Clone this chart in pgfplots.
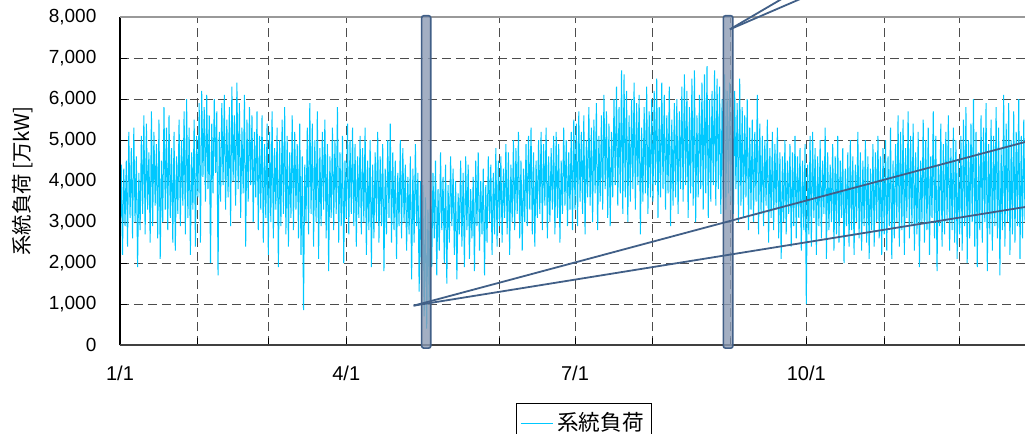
\documentclass[border=0pt]{standalone}
\usepackage{fontspec}
\setmainfont{Liberation Sans}
\newfontfamily\jp{Noto Sans CJK JP}
\usepackage{pgfplots}
\usepackage{pgfplotstable}
\pgfplotsset{compat=1.18}
\definecolor{load}{HTML}{00C8FF}
\definecolor{ann}{HTML}{415F87}
\definecolor{barf}{HTML}{8C9BB4}

% daily low / high pairs (万kW), day 0 = 1/1
\pgfplotstableread[row sep=\\]{v\\
2300\\4400\\2200\\4300\\2900\\4500\\2400\\5200\\3100\\4800\\2600\\5300\\3000\\4600\\1900\\4200\\2800\\5100\\3200\\5600\\
2700\\5400\\3300\\4700\\2500\\5700\\2900\\5200\\3400\\4900\\2600\\5500\\2100\\4500\\3000\\5800\\3300\\5300\\2800\\5600\\
3100\\4800\\2500\\5200\\2300\\4600\\3200\\5500\\2900\\5000\\3400\\5700\\2700\\6000\\3100\\5300\\2200\\4700\\3300\\5500\\2400\\5100\\
3600\\5900\\2500\\6200\\4100\\5800\\3500\\6100\\3800\\5600\\2000\\5400\\3700\\6000\\4200\\5700\\1700\\5200\\3500\\5900\\3900\\6100\\3300\\5500\\
3600\\5800\\2900\\6300\\4000\\5600\\3400\\6400\\3800\\5900\\3100\\5300\\3700\\6100\\2400\\5500\\3500\\5800\\3900\\5600\\3000\\5200\\3600\\5700\\
2800\\5100\\3300\\5600\\2500\\4900\\3100\\5400\\2200\\5200\\3000\\5700\\2600\\4800\\3300\\5300\\1900\\5000\\2900\\5500\\3200\\5800\\2700\\5100\\2400\\4700\\3100\\5600\\2800\\5200\\3300\\4900\\2600\\5400\\2200\\4600\\850\\4400\\3000\\5300\\
2700\\5900\\3200\\5400\\2400\\5000\\3000\\5700\\2100\\4800\\2900\\5200\\3300\\5500\\2600\\4900\\1800\\4600\\3100\\5300\\2800\\5000\\3200\\5800\\2500\\4700\\2900\\5100\\2000\\4500\\3100\\5400\\2700\\5000\\3200\\5300\\
2900\\4900\\2400\\4600\\3100\\5100\\2700\\4800\\3000\\5300\\2200\\4500\\2800\\5000\\1900\\4400\\2600\\4700\\3000\\5200\\2500\\4600\\2900\\4900\\1800\\4300\\2700\\5000\\3100\\5400\\2500\\4700\\2800\\4500\\2100\\4200\\2900\\5000\\2600\\4800\\3000\\4400\\2300\\4100\\2700\\4600\\1600\\4300\\2500\\4900\\2900\\4200\\1300\\4000\\
1200\\3900\\700\\3600\\400\\3300\\1100\\3800\\
1900\\4200\\2600\\4500\\1700\\3800\\2300\\4700\\2800\\4100\\2000\\4400\\1500\\3900\\2500\\4600\\2900\\4300\\2200\\4000\\1600\\3700\\2700\\4500\\2400\\4200\\1900\\4600\\2800\\4400\\2100\\3800\\2600\\4100\\1800\\4500\\2900\\4700\\2300\\4000\\2700\\4300\\1700\\3900\\2500\\4600\\3000\\4400\\2200\\4200\\2700\\4800\\2400\\4500\\
2900\\4600\\2500\\4300\\3100\\4900\\2700\\4700\\2200\\4400\\3000\\5000\\2800\\4800\\3200\\5200\\2600\\4500\\2300\\4300\\3000\\4900\\2900\\5100\\3300\\5300\\2700\\4700\\2400\\4500\\3100\\5000\\3200\\5200\\2800\\4900\\3400\\5300\\2600\\4600\\3000\\4800\\3300\\5100\\2700\\5200\\3100\\4900\\2500\\4500\\3200\\5300\\3400\\5000\\2900\\4700\\3300\\5200\\2800\\5500\\
3300\\5400\\2900\\5700\\3500\\5200\\3200\\5600\\2700\\5000\\3600\\5800\\3400\\5300\\3000\\5500\\3700\\5900\\2800\\5100\\3500\\5600\\3300\\6100\\3800\\5700\\3100\\5400\\2900\\5200\\3600\\6000\\3900\\6300\\3400\\5800\\3700\\6700\\3200\\6600\\3600\\6200\\3000\\5600\\3500\\6000\\3800\\6400\\3300\\5900\\3900\\6100\\2700\\5300\\3500\\5800\\3700\\6300\\3200\\5700\\3600\\6000\\
3500\\6200\\3900\\6500\\3100\\5800\\3600\\6400\\3800\\6100\\3300\\5600\\3700\\6300\\2900\\5500\\3400\\5900\\3600\\6000\\3200\\5700\\3800\\6300\\3500\\6600\\3900\\6200\\3100\\5800\\3700\\6500\\3400\\6700\\3000\\5600\\3600\\6100\\3800\\6400\\3300\\6600\\3700\\6800\\3100\\6000\\3500\\6200\\3900\\6700\\3400\\6500\\3800\\6300\\3200\\6000\\3600\\6600\\3300\\6200\\3700\\6400\\
3500\\6700\\3200\\6200\\3800\\5900\\3000\\6500\\3400\\5800\\3100\\5600\\3600\\6000\\2800\\5300\\3300\\5500\\3000\\5200\\3500\\6100\\2700\\5400\\3200\\5100\\2900\\5000\\3400\\5500\\2500\\4800\\3100\\5200\\2800\\4900\\3300\\5300\\2600\\4700\\2100\\4600\\3000\\5000\\2700\\4500\\3200\\4900\\2400\\4700\\2900\\5100\\2600\\4600\\3100\\4800\\2300\\4500\\2800\\4900\\
1000\\4400\\2700\\5100\\2400\\5200\\3100\\4800\\2200\\4600\\2900\\5000\\2600\\4500\\3200\\5300\\2100\\4700\\2800\\4400\\3000\\4900\\2300\\4600\\2700\\5100\\2500\\4500\\3100\\4800\\2000\\4300\\2900\\4700\\2400\\5000\\2800\\4600\\2200\\4400\\3000\\5200\\2600\\4700\\2300\\4500\\2900\\5000\\2500\\4600\\2100\\4300\\2800\\4900\\2400\\4700\\3000\\5100\\2600\\4600\\2200\\4800\\
2700\\5000\\2300\\4600\\2900\\5300\\2100\\4500\\2600\\4900\\3000\\5600\\2400\\5200\\2800\\5500\\2200\\4800\\3100\\5700\\2600\\5100\\2900\\5400\\2300\\4700\\2700\\5200\\1900\\4500\\3000\\5500\\2500\\5000\\2800\\5300\\2200\\4600\\3100\\5700\\2600\\5100\\1800\\4400\\2900\\5400\\2400\\4900\\2700\\5200\\3000\\5600\\2300\\4800\\2800\\5300\\2500\\5000\\2100\\4500\\
2700\\5100\\2300\\5500\\2900\\5800\\2000\\5000\\2600\\5400\\3000\\6000\\2400\\5200\\1900\\4700\\2800\\5600\\2500\\5300\\3000\\5900\\1800\\4900\\2700\\5500\\2300\\5100\\2900\\5800\\2600\\5300\\1700\\4800\\2800\\6100\\2400\\5400\\3000\\5900\\2200\\5000\\2700\\5700\\2500\\5200\\2900\\6000\\2100\\5100\\2600\\5500\\3000\\5800\\
}\loadtable

\begin{document}
\begin{tikzpicture}
\begin{axis}[
  at={(0,0)}, anchor=south west,
  scale only axis, width=458.8pt, height=164pt,
  xmin=0, xmax=365, ymin=0, ymax=8000,
  clip=false,
  axis line style={draw=none},
  xtick={0,31,59,90,120,151,181,212,243,273,304,334},
  xticklabels={1/1,,,4/1,,,7/1,,,10/1,,},
  ytick={0,1000,...,8000},
  xtick pos=lower, ytick pos=left, tick align=inside,
  major tick length=3.5pt,
  tick style={black, line width=0.5pt},
  grid=major,
  major grid style={black!70, line width=0.5pt, dash pattern=on 4.5pt off 2.5pt},
  yticklabel style={font=\fontsize{9.5}{11}\selectfont, xshift=-8.3pt},
  xticklabel style={font=\fontsize{10}{12}\selectfont, yshift=-7pt},
  /pgf/number format/1000 sep={,},
  /pgf/number format/assume math mode=true,
  ylabel={\jp 系統負荷 [万kW]},
  ylabel style={at={(axis description cs:-0.1063,0.5)}, anchor=center, font=\fontsize{10.2}{12}\selectfont},
  legend style={at={(axis description cs:0.5057,-0.177)}, anchor=north, draw=black, line width=0.5pt, font=\jp\fontsize{10.8}{12}\selectfont, inner xsep=2pt, inner ysep=2.5pt},
  legend cell align=left,
  legend image code/.code={\draw[#1, line width=0.5pt] (0pt,0pt) -- (16pt,0pt);},
]
\addplot[load, line width=0.5pt] table[x expr=\coordindex/2, y index=0] {\loadtable};
\addlegendentry{系統負荷}

\draw[black, line width=0.6pt] (rel axis cs:0,0) -- (rel axis cs:0,1);
\draw[black!40, line width=0.75pt] (rel axis cs:0,1) -- (rel axis cs:1,1);
\draw[black!75, line width=1pt] (rel axis cs:0,0) -- (rel axis cs:1,0);

\draw[ann, line width=0.8pt, fill=barf, fill opacity=0.8, rounded corners=1pt] (axis cs:120,-75) rectangle (axis cs:123.6,8030);
\draw[ann, line width=0.8pt, fill=barf, fill opacity=0.8, rounded corners=1pt] (axis cs:240,-75) rectangle (axis cs:243.8,8030);

\draw[ann, line width=0.9pt] (axis cs:116.8,960) -- (axis cs:365,5033);
\draw[ann, line width=0.9pt] (axis cs:116.8,960) -- (axis cs:365,3415);
\draw[ann, line width=0.9pt] (axis cs:242.6,7700) -- (axis cs:278.8,9000);
\draw[ann, line width=0.9pt] (axis cs:242.6,7700) -- (axis cs:291.8,9000);
\end{axis}
\pgfresetboundingbox
\path[use as bounding box] (-60pt,-44.5pt) rectangle (452.5pt,172.5pt);
\end{tikzpicture}
\end{document}
